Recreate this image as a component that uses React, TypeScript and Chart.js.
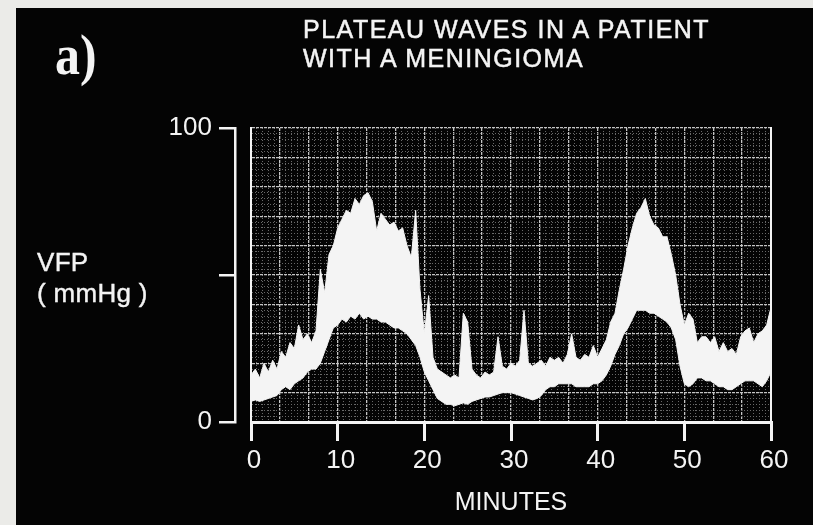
import React, { useEffect, useRef } from 'react';
import { Chart, registerables } from 'chart.js';

Chart.register(...registerables);

// ---- data (one sample every 0.5 min) ----
const SAMPLE_STEP_MIN = 0.5;

// upper edge of the white VFP trace (mmHg)
const vfpUpper = [
  16, 18, 15, 20, 17, 21, 18, 24, 22, 27, // 0 - 4.5
  25, 33, 28, 30, 27, 31, 52, 44, 57, 60, // 5 - 9.5
  66, 69, 72, 71, 76, 74, 77, 78, 75, 65, // 10 - 14.5
  71, 69, 67, 68, 65, 66, 60, 56, 72, 45, // 15 - 19.5
  30, 43, 22, 18, 17, 16, 15, 16, 15, 37, // 20 - 24.5
  34, 18, 16, 15, 17, 16, 17, 29, 19, 18, // 25 - 29.5
  20, 19, 21, 38, 20, 19, 20, 21, 19, 22, // 30 - 34.5
  21, 22, 20, 23, 30, 22, 21, 23, 22, 26, // 35 - 39.5
  22, 25, 28, 34, 37, 45, 52, 60, 66, 71, // 40 - 44.5
  73, 76, 70, 67, 66, 63, 63, 57, 50, 40, // 45 - 49.5
  33, 37, 35, 27, 29, 29, 27, 29, 24, 27, // 50 - 54.5
  24, 25, 23, 29, 31, 32, 27, 30, 31, 33, // 55 - 59.5
  39,                                     // 60
];

// lower edge of the white VFP trace (mmHg)
const vfpLower = [
  7, 7.5, 7, 7.5, 8, 8.5, 9, 11, 12, 11,
  13, 14, 15, 17, 18, 18, 20, 24, 28, 32,
  33, 35, 34, 36, 35, 37, 35, 36, 35, 35,
  34, 34, 33, 32, 32, 31, 30, 28, 26, 22,
  17, 14, 11, 8, 7, 6, 6, 5.5, 6, 6.5,
  6, 7, 7.5, 8, 8.5, 8.5, 9, 9.5, 10, 10,
  10, 9.5, 9, 8.5, 8, 7.5, 8, 9, 11, 12,
  12, 13, 13, 13, 13, 12, 12, 12, 12, 13,
  13, 14, 16, 19, 23, 26, 30, 32, 35, 38,
  38, 38, 37, 37, 36, 35, 34, 32, 28, 19,
  13, 12, 13, 15, 15, 14, 14, 13, 12, 12,
  11, 11, 12, 13, 14, 14, 14, 13, 12, 14,
  17,
];

const xTickMinutes = [0, 10, 20, 30, 40, 50, 60];
const yTickValues = [0, 50, 100];
const yTickLabels: Record<number, string> = { 0: '0', 50: '', 100: '100' };

const titleLines = ['PLATEAU WAVES IN A PATIENT', 'WITH A MENINGIOMA'];
const panelLabel = 'a)';
const yLabelLines = ['VFP', '( mmHg )'];
const xTitle = 'MINUTES';

// ---- styles ----
const AXIS_FONT = "'Liberation Sans', Arial, sans-serif";
const TEXT_FONT = "'Liberation Sans', Arial, sans-serif";
const WHITE = '#f4f4f4';
const GRID_MAJOR = '#c4c4c4';
const GRID_MINOR = '#686868';

function zeroPad(s: any) {
  s.paddingLeft = 0;
  s.paddingRight = 0;
  s.paddingTop = 0;
  s.paddingBottom = 0;
}

export default function App() {
  const ref = useRef<HTMLCanvasElement | null>(null);

  useEffect(() => {
    const canvas = ref.current;
    if (!canvas) return;
    const minutes = vfpUpper.map((_, i) => i * SAMPLE_STEP_MIN);
    const lowerPts = minutes.map((m, i) => ({ x: m, y: vfpLower[i] }));
    const upperPts = minutes.map((m, i) => ({ x: m, y: vfpUpper[i] }));

    const chart = new Chart(canvas, {
      type: 'line',
      data: {
        datasets: [
          {
            data: lowerPts,
            borderColor: WHITE,
            borderWidth: 1,
            pointRadius: 0,
            fill: false,
            tension: 0,
            xAxisID: 'x',
            yAxisID: 'y',
          },
          {
            data: upperPts,
            borderColor: WHITE,
            borderWidth: 1,
            pointRadius: 0,
            fill: '-1',
            backgroundColor: WHITE,
            tension: 0,
            xAxisID: 'x',
            yAxisID: 'y',
          },
        ],
      },
      options: {
        animation: false,
        responsive: false,
        events: [],
        layout: { padding: { left: 135, right: 42, top: 128, bottom: 7 } },
        plugins: {
          legend: { display: false },
          tooltip: { enabled: false },
          title: { display: false },
        },
        scales: {
          x: {
            type: 'linear',
            position: 'bottom',
            weight: 1,
            min: 0,
            max: 60,
            afterBuildTicks: (s: any) => {
              s.ticks = xTickMinutes.map((v) => ({ value: v }));
            },
            afterFit: (s: any) => {
              s.height = 96;
              zeroPad(s);
            },
            ticks: {
              color: WHITE,
              font: { family: AXIS_FONT, size: 26 },
              padding: 4,
              maxRotation: 0,
              autoSkip: false,
              labelOffset: 3,
            },
            grid: {
              drawOnChartArea: false,
              drawTicks: true,
              tickLength: 19,
              color: WHITE,
              lineWidth: 3,
            },
            border: { display: true, color: WHITE, width: 3 },
            title: {
              display: true,
              text: xTitle,
              color: WHITE,
              font: { family: AXIS_FONT, size: 25 },
              padding: { top: 0, bottom: 0 },
            },
          },
          xg: {
            type: 'linear',
            position: 'bottom',
            weight: 0,
            min: 0,
            max: 60,
            afterBuildTicks: (s: any) => {
              const t: any[] = [];
              for (let k = 0; k <= 90; k++) t.push({ value: (k * 60) / 90 });
              s.ticks = t;
            },
            afterFit: (s: any) => {
              s.height = 0;
              zeroPad(s);
            },
            ticks: { display: false },
            grid: {
              drawTicks: false,
              drawOnChartArea: true,
              color: (c: any) => (c.index % 5 === 0 ? GRID_MAJOR : GRID_MINOR),
              lineWidth: (c: any) => (c.index % 5 === 0 ? 1.3 : 1),
            },
            border: {
              display: false,
              dash: (c: any) => (c.index % 5 === 0 ? [3, 1] : [1, 2]),
            },
          },
          y: {
            type: 'linear',
            position: 'left',
            weight: 0,
            min: 0,
            max: 100,
            afterFit: (s: any) => {
              s.width = 16;
              zeroPad(s);
            },
            ticks: { display: false, stepSize: 2 },
            grid: {
              drawTicks: false,
              drawOnChartArea: true,
              color: (c: any) =>
                c.tick && Math.round(c.tick.value) % 10 === 0 ? GRID_MAJOR : GRID_MINOR,
              lineWidth: (c: any) =>
                c.tick && Math.round(c.tick.value) % 10 === 0 ? 1.3 : 1,
            },
            border: {
              display: true,
              color: WHITE,
              width: 2,
              dash: (c: any) =>
                c.tick && Math.round(c.tick.value) % 10 === 0 ? [3, 1] : [1, 2],
            },
          },
          yAxis: {
            type: 'linear',
            position: 'left',
            weight: 2,
            min: 0,
            max: 100,
            afterBuildTicks: (s: any) => {
              s.ticks = yTickValues.map((v) => ({ value: v }));
            },
            afterFit: (s: any) => {
              s.width = 100;
              zeroPad(s);
            },
            ticks: {
              color: WHITE,
              font: { family: AXIS_FONT, size: 26 },
              padding: 7,
              callback: (v: any) => yTickLabels[Number(v)] ?? '',
            },
            grid: {
              drawOnChartArea: false,
              drawTicks: true,
              tickLength: 16,
              color: WHITE,
              lineWidth: 2.5,
            },
            border: { display: true, color: WHITE, width: 2.5 },
          },
          y2: {
            type: 'linear',
            position: 'right',
            min: 0,
            max: 100,
            afterFit: (s: any) => {
              s.width = 0;
              zeroPad(s);
            },
            ticks: { display: false },
            grid: { drawOnChartArea: false, drawTicks: false },
            border: { display: true, color: WHITE, width: 2 },
          },
        },
      },
    } as any);

    return () => chart.destroy();
  }, []);

  return (
    <div
      style={{
        position: 'fixed',
        left: 0,
        top: 0,
        width: 813,
        height: 525,
        overflow: 'hidden',
        background: '#ebebe8',
      }}
    >
      <div
        style={{
          position: 'absolute',
          left: 16,
          top: 8,
          right: 0,
          bottom: 0,
          background: '#040404',
        }}
      />
      <canvas
        ref={ref}
        width={813}
        height={525}
        style={{ position: 'absolute', left: 0, top: 0, width: 813, height: 525 }}
      />
      <div
        style={{
          position: 'absolute',
          left: 55,
          top: 26,
          color: WHITE,
          fontFamily: "'Liberation Serif', 'DejaVu Serif', serif",
          fontWeight: 'bold',
          fontSize: 58,
          lineHeight: 1,
          transform: 'scaleX(0.86)',
          transformOrigin: 'left top',
          whiteSpace: 'nowrap',
        }}
      >
        {panelLabel}
      </div>
      <div
        style={{
          position: 'absolute',
          left: 303,
          top: 15,
          color: WHITE,
          fontFamily: TEXT_FONT,
          fontSize: 25,
          lineHeight: '29px',
          letterSpacing: '1.5px',
          whiteSpace: 'nowrap',
          WebkitTextStroke: '0.5px ' + WHITE,
        }}
      >
        {titleLines.map((t) => (
          <div key={t}>{t}</div>
        ))}
      </div>
      <div
        style={{
          position: 'absolute',
          left: 37,
          top: 247,
          color: WHITE,
          fontFamily: TEXT_FONT,
          fontSize: 26,
          lineHeight: '31px',
          letterSpacing: '0.3px',
          whiteSpace: 'pre',
          WebkitTextStroke: '0.4px ' + WHITE,
        }}
      >
        {yLabelLines.map((t) => (
          <div key={t}>{t}</div>
        ))}
      </div>
    </div>
  );
}
